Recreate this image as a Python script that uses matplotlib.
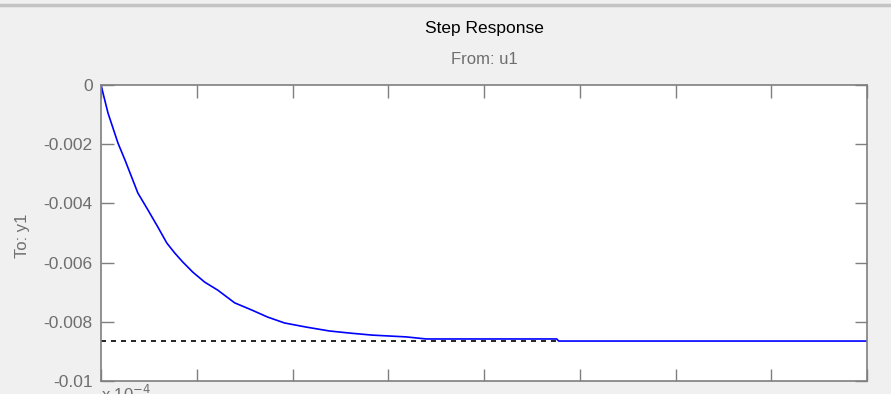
import matplotlib.pyplot as plt
from matplotlib.lines import Line2D

plt.rcParams['font.family'] = ['Liberation Sans Narrow', 'Liberation Sans', 'DejaVu Sans']

# step response samples (time in units of 1e-4 s)
time = [0, 0.073, 0.177, 0.25, 0.385, 0.49, 0.594, 0.6875, 0.771, 0.854,
        0.958, 1.083, 1.219, 1.396, 1.573, 1.74, 1.917, 2.146, 2.385, 2.594,
        2.833, 3.1875, 3.396, 4.76, 4.78, 8.0]
response = [0, -0.000946, -0.00196, -0.00253, -0.00365, -0.00422, -0.0048,
            -0.00534, -0.00568, -0.00598, -0.00632, -0.00666, -0.00693,
            -0.00736, -0.0076, -0.00784, -0.00804, -0.00818, -0.00831,
            -0.00838, -0.00845, -0.00851, -0.00858, -0.00858, -0.00865,
            -0.00865]

steady_value = -0.00865
steady_end = 4.78

yticks = [0, -0.002, -0.004, -0.006, -0.008, -0.01]
ytick_labels = ['0', '-0.002', '-0.004', '-0.006', '-0.008', '-0.01']
xticks = [0, 1, 2, 3, 4, 5, 6, 7, 8]

bg = '#f0f0f0'
axis_gray = '#7f7f7f'
label_gray = '#6e6e6e'

fig = plt.figure(figsize=(8.91, 3.94), dpi=100, facecolor=bg)
ax = fig.add_axes([101 / 891, 1 - 381 / 394, 766 / 891, 296 / 394])

ax.plot([0, steady_end], [steady_value, steady_value], color='black',
        linestyle=(0, (3, 3)), linewidth=1.2)
ax.plot(time, response, color='#0000ff', linewidth=1.2)

ax.set_xlim(0, 8)
ax.set_ylim(-0.01, 0)
ax.set_xticks(xticks)
ax.set_xticklabels([])
ax.set_yticks(yticks)
ax.set_yticklabels(ytick_labels)

ax.tick_params(direction='in', length=9, width=1, color=axis_gray,
               top=True, right=True, labelsize=12.5, labelcolor=label_gray,
               pad=6)
for s in ax.spines.values():
    s.set_color(axis_gray)
    s.set_linewidth(1.2)

fig.text(484 / 891, 1 - 28 / 394, 'Step Response', ha='center', va='center',
         fontsize=12.5, color='black')
fig.text(484 / 891, 1 - 59 / 394, 'From: u1', ha='center', va='center',
         fontsize=12, color=label_gray)
fig.text(23 / 891, 1 - 236 / 394, 'To: y1', ha='center', va='center',
         rotation=90, fontsize=12, color=label_gray)
fig.text(101 / 891, 1 - 384 / 394, r'x 10$^{-4}$', ha='left', va='top',
         fontsize=12, color=label_gray)

# thin separator at the top of the window
fig.add_artist(Line2D([0, 1], [1 - 5 / 394, 1 - 5 / 394],
                      transform=fig.transFigure, color='#c4c4c4', linewidth=2.5))

fig.savefig('out.png', dpi=100, facecolor=bg)
